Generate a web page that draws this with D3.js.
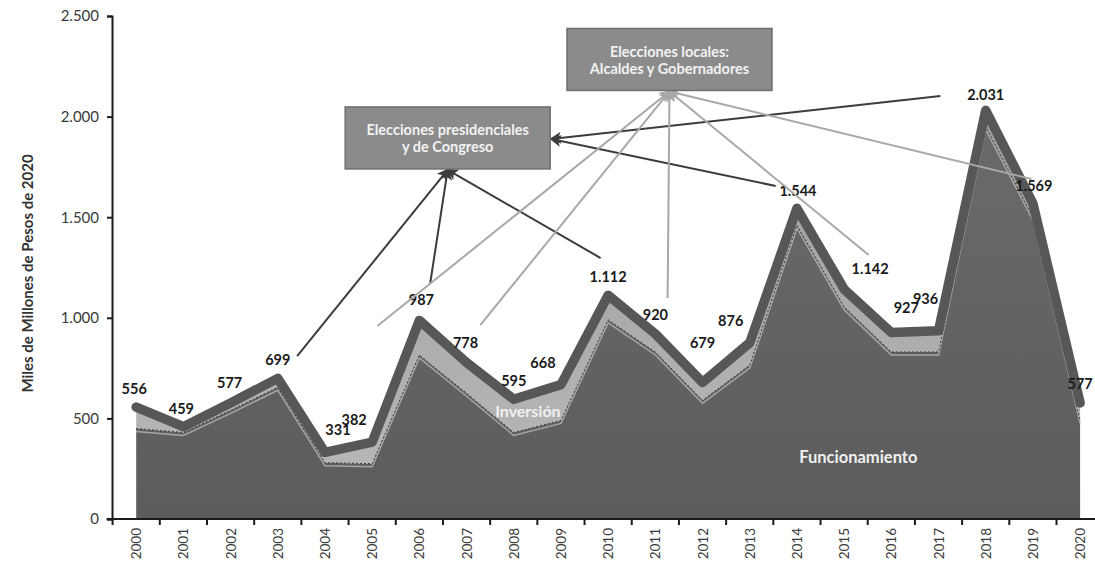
<!DOCTYPE html>
<html><head><meta charset="utf-8">
<script src="https://cdn.jsdelivr.net/npm/d3@7"></script>
<style>body{margin:0;background:#fff}svg{display:block;font-family:Lato,"DejaVu Sans",sans-serif}</style>
</head><body><svg id="c" width="1095" height="562"></svg>
<script>
// ---- data ----
const years = ["2000","2001","2002","2003","2004","2005","2006","2007","2008","2009","2010",
               "2011","2012","2013","2014","2015","2016","2017","2018","2019","2020"];
const total = [556,459,577,699,331,382,987,778,595,668,1112,920,679,876,1544,1142,927,936,2031,1569,577];
const funcionamiento = [450,430,540,655,280,275,815,625,430,490,990,830,590,765,1460,1055,830,830,1950,1500,490];
const yTicks = [0,500,1000,1500,2000,2500];
const yTitle = "Miles de Millones  de Pesos de 2020";
const seriesNames = ["Funcionamiento","Inversión"];
// label nudges (px) for the total labels
const labelOffsets = [[-2,-19],[-2,-18],[-1,-20],[0,-19],[13,-23],[-18,-23],[2,-21],[-1,-20],[0,-19],[-18,-22],
                      [0,-19],[0,-19],[0,-40],[-19,-22],[1,-18],[26,-21],[15,-25],[-13,-32],[0,-16],[1,-18],[0,-19]];
// annotation boxes: centre in data units (fractional year index, value)
const boxPres = {lines:["Elecciones presidenciales","y de Congreso"], at:[6.6,1894]};
const boxLoc  = {lines:["Elecciones locales:","Alcaldes y Gobernadores"], at:[11.3,2284]};
// arrow starts in data units
const presArrows = [[3.41,810,"bottom"],[6.23,1173,"bottom"],[9.84,1297,"bottom"],[13.55,1655,"right"],[17.04,2102,"right"]];
const locArrows  = [[5.11,959],[7.29,964],[11.26,1098],[15.52,1312],[18.97,1690]];

// ---- scales ----
const svg = d3.select("#c");
const fmt = d3.formatLocale({decimal:",",thousands:".",grouping:[3],currency:["$",""]}).format(",d");
const x = d3.scaleBand().domain(years).range([112.6,1103.7]).padding(0);
const cx = i => x(years[i]) + x.bandwidth()/2;
const xf = t => x(years[0]) + x.bandwidth()*(t+0.5);
const y = d3.scaleLinear().domain([0,2500]).range([519,16]);

const defs = svg.append("defs");
const g1 = defs.append("linearGradient").attr("id","gF").attr("x1",0).attr("y1",0).attr("x2",0).attr("y2",1);
g1.append("stop").attr("offset","0%").attr("stop-color","#6a6a6a");
g1.append("stop").attr("offset","100%").attr("stop-color","#5c5c5c");
const g2 = defs.append("linearGradient").attr("id","gI").attr("x1",0).attr("y1",0).attr("x2",0).attr("y2",1);
g2.append("stop").attr("offset","0%").attr("stop-color","#9c9c9c");
g2.append("stop").attr("offset","100%").attr("stop-color","#b6b6b6");
function marker(id,color){
  defs.append("marker").attr("id",id).attr("viewBox","0 0 12 12").attr("refX",10).attr("refY",6)
    .attr("markerWidth",12).attr("markerHeight",12).attr("markerUnits","userSpaceOnUse").attr("orient","auto")
    .append("path").attr("d","M0,0 L12,6 L0,12 L3,6 Z").attr("fill",color);
}
marker("mD","#3c3c3c"); marker("mL","#a8a8a8");

// ---- areas ----
const areaF = d3.area().x((d,i)=>cx(i)).y0(y(0)).y1(d=>y(d));
svg.append("path").datum(funcionamiento).attr("d",areaF).attr("fill","url(#gF)");
const areaI = d3.area().x((d,i)=>cx(i)).y0((d,i)=>y(funcionamiento[i])).y1(d=>y(d));
svg.append("path").datum(total).attr("d",areaI).attr("fill","url(#gI)");
const lineF = d3.line().x((d,i)=>cx(i)).y(d=>y(d));
svg.append("path").datum(funcionamiento).attr("d",lineF).attr("transform","translate(0,3)")
  .attr("fill","none").attr("stroke","#c4c4c4").attr("stroke-width",1.5).attr("opacity",0.7);
svg.append("path").datum(funcionamiento).attr("d",lineF)
  .attr("fill","none").attr("stroke","#383838").attr("stroke-width",1).attr("stroke-dasharray","2,2");
svg.append("path").datum(total).attr("d",lineF)
  .attr("fill","none").attr("stroke","#575757").attr("stroke-width",9.5)
  .attr("stroke-linejoin","round").attr("stroke-linecap","round");

// ---- axes ----
const ya = svg.append("g").attr("transform",`translate(${x.range()[0]-0.6},0)`)
  .call(d3.axisLeft(y).tickValues(yTicks).tickFormat(fmt).tickSize(5).tickPadding(8));
ya.select(".domain").attr("stroke","#1a1a1a").attr("stroke-width",2);
ya.selectAll(".tick line").attr("stroke","#1a1a1a").attr("stroke-width",2);
ya.selectAll(".tick text").attr("font-size",15).attr("fill","#3a3a3a").attr("font-family","Lato");

const xa = svg.append("g").attr("transform",`translate(0,${y(0)})`);
xa.append("line").attr("x1",x.range()[0]-6).attr("x2",x.range()[1]).attr("stroke","#1a1a1a").attr("stroke-width",2);
xa.selectAll("line.t").data(d3.range(years.length+1)).join("line").attr("class","t")
  .attr("x1",i=>x.range()[0]+i*x.bandwidth()).attr("x2",i=>x.range()[0]+i*x.bandwidth())
  .attr("y1",0).attr("y2",6).attr("stroke","#1a1a1a").attr("stroke-width",2);
svg.selectAll("text.xl").data(years).join("text").attr("class","xl")
  .attr("x",(d,i)=>cx(i)).attr("y",528)
  .attr("transform",(d,i)=>`rotate(-90,${cx(i)},528)`)
  .attr("text-anchor","end").attr("dominant-baseline","central")
  .attr("font-size",13.5).attr("fill","#3a3a3a").text(d=>d);

svg.append("text").attr("transform",`translate(27,${(y(0)+y(2500))/2+6}) rotate(-90)`)
  .attr("text-anchor","middle").attr("dominant-baseline","central")
  .attr("font-size",15).attr("font-weight","bold").attr("fill","#333").text(yTitle);

// ---- series labels ----
svg.append("text").attr("x",xf(8.3)).attr("y",y(540)).attr("text-anchor","middle").attr("dominant-baseline","central")
  .attr("font-size",16).attr("font-weight","bold").attr("fill","#f0f0f0").text(seriesNames[1]);
svg.append("text").attr("x",xf(15.3)).attr("y",y(310)).attr("text-anchor","middle").attr("dominant-baseline","central")
  .attr("font-size",16.5).attr("font-weight","bold").attr("fill","#f0f0f0").text(seriesNames[0]);

// ---- value labels ----
svg.selectAll("text.v").data(total).join("text").attr("class","v")
  .attr("x",(d,i)=>cx(i)+labelOffsets[i][0]).attr("y",(d,i)=>y(d)+labelOffsets[i][1])
  .attr("text-anchor","middle").attr("dominant-baseline","central")
  .attr("font-size",14.5).attr("font-weight","bold").attr("fill","#1a1a1a").text(d=>fmt(d));

// ---- annotations ----
const BW=205, BH=62;
function boxGeom(b){ return {cx:xf(b.at[0]), cy:y(b.at[1])}; }
const bp = boxGeom(boxPres), bl = boxGeom(boxLoc);
presArrows.forEach(a=>{
  const tx = a[2]==="bottom" ? bp.cx : bp.cx+BW/2+1;
  const ty = a[2]==="bottom" ? bp.cy+BH/2+1 : bp.cy+1;
  svg.append("line").attr("x1",xf(a[0])).attr("y1",y(a[1])).attr("x2",tx).attr("y2",ty)
    .attr("stroke","#3c3c3c").attr("stroke-width",2).attr("marker-end","url(#mD)");
});
locArrows.forEach(a=>{
  svg.append("line").attr("x1",xf(a[0])).attr("y1",y(a[1])).attr("x2",bl.cx).attr("y2",bl.cy+BH/2+1)
    .attr("stroke","#a8a8a8").attr("stroke-width",2).attr("marker-end","url(#mL)");
});
[[boxPres,bp],[boxLoc,bl]].forEach(([b,gm])=>{
  svg.append("rect").attr("x",gm.cx-BW/2).attr("y",gm.cy-BH/2).attr("width",BW).attr("height",BH)
    .attr("fill","#8b8b8b").attr("stroke","#6f6f6f").attr("stroke-width",1.5);
  b.lines.forEach((t,k)=>{
    svg.append("text").attr("x",gm.cx).attr("y",gm.cy-8+k*17).attr("text-anchor","middle")
      .attr("dominant-baseline","central").attr("font-size",14.5).attr("font-weight","bold")
      .attr("fill","#f2f2f2").text(t);
  });
});
</script></body></html>
